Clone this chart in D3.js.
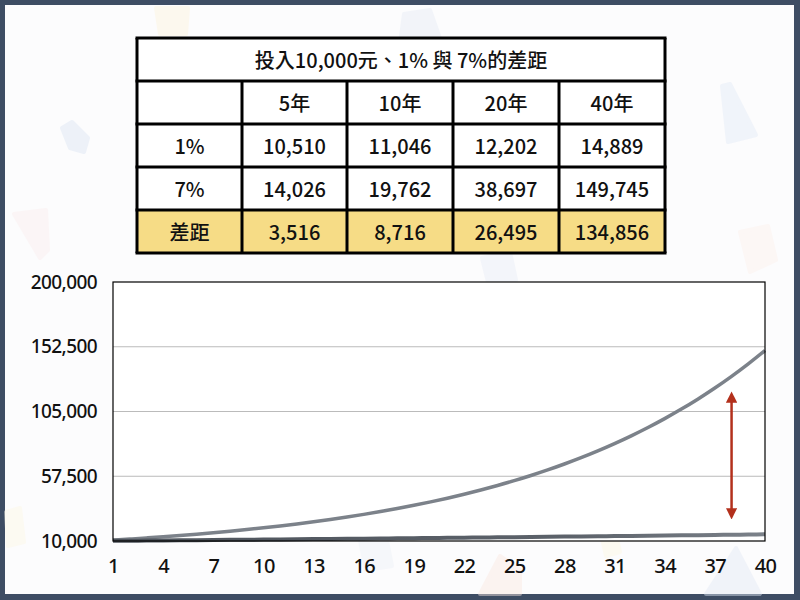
<!DOCTYPE html>
<html>
<head>
<meta charset="utf-8">
<script src="https://cdn.jsdelivr.net/npm/d3@7"></script>
<style>
  html, body { margin: 0; padding: 0; background: #3e4d64; }
  svg { display: block; }
  .cjk { font-family: "Noto Sans CJK TC", "Noto Sans", sans-serif; font-weight: 500; }
  .num { font-family: "Noto Sans", "Open Sans", sans-serif; font-weight: 500; letter-spacing: -0.6px; }
</style>
</head>
<body>
<div id="chart"></div>
<script>
// 표 데이터
const tableTitle = '投入10,000元、1% 與 7%的差距';
const tableHeader = ['', '5年', '10年', '20年', '40年'];
const rowLabels = ['1%', '7%', '差距'];
const row1 = ['10,510', '11,046', '12,202', '14,889'];
const row7 = ['14,026', '19,762', '38,697', '149,745'];
const rowGap = ['3,516', '8,716', '26,495', '134,856'];

// 그래프 데이터 (연도별 금액)
const years = d3.range(1, 41);
const rate1 = [10100, 10201, 10303, 10406, 10510, 10615, 10721, 10829, 10937, 11046,
  11157, 11268, 11381, 11495, 11610, 11726, 11843, 11961, 12081, 12202,
  12324, 12447, 12572, 12697, 12824, 12953, 13082, 13213, 13345, 13478,
  13613, 13749, 13887, 14026, 14166, 14308, 14451, 14595, 14741, 14889];
const rate7 = [10700, 11449, 12250, 13108, 14026, 15007, 16058, 17182, 18385, 19672,
  21049, 22522, 24098, 25785, 27590, 29522, 31588, 33799, 36165, 38697,
  41406, 44304, 47405, 50724, 54274, 58074, 62139, 66488, 71143, 76123,
  81451, 87153, 93253, 99781, 106766, 114239, 122236, 130793, 139948, 149745];
const yTicks = [10000, 57500, 105000, 152500, 200000];
const xTicks = d3.range(1, 41, 3);
const arrowYear = 38;
const arrowRange = [120000, 25500];

const width = 800, height = 600;
const svg = d3.select('#chart').append('svg')
  .attr('width', width).attr('height', height);

// 배경
svg.append('rect').attr('width', width).attr('height', height).attr('fill', '#3e4d64');
svg.append('rect').attr('x', 5).attr('y', 5).attr('width', 789).attr('height', 589)
  .attr('fill', '#fcfcfd');

// 희미한 장식 조각
const confetti = [
  { pts: [[62, 128], [72, 122], [88, 138], [84, 152], [70, 148]], c: '#dbe5f4' },
  { pts: [[14, 214], [46, 210], [48, 250], [40, 258]], c: '#fbeeee' },
  { pts: [[722, 86], [730, 84], [756, 135], [728, 142]], c: '#e3ebf7' },
  { pts: [[740, 232], [768, 226], [776, 260], [750, 272]], c: '#fcf1ec' },
  { pts: [[6, 512], [20, 508], [24, 542], [8, 546]], c: '#fdf8e6' },
  { pts: [[156, 8], [188, 8], [186, 34], [160, 34]], c: '#fcf5dd' },
  { pts: [[404, 14], [430, 10], [444, 50], [400, 44]], c: '#e6ecf6' },
  { pts: [[482, 258], [510, 252], [516, 280], [488, 282]], c: '#e9eef7' },
  { pts: [[480, 594], [500, 556], [520, 570], [520, 594]], c: '#fbe9e2' },
  { pts: [[706, 594], [736, 548], [760, 594]], c: '#e3eaf6' },
  { pts: [[598, 520], [612, 516], [620, 552], [606, 556]], c: '#fdf8e4' },
  { pts: [[360, 540], [386, 536], [392, 566], [366, 570]], c: '#eef1f8' }
];
svg.append('g').attr('opacity', 0.45)
  .selectAll('polygon').data(confetti).join('polygon')
  .attr('points', d => d.pts.map(p => p.join(',')).join(' '))
  .attr('fill', d => d.c)
  .attr('stroke', d => d.c).attr('stroke-width', 4).attr('stroke-linejoin', 'round');

// ---- 표 그리기 ----
const colEdges = [137, 242, 347, 453, 559, 665];
const rowY = d3.scaleLinear().domain([0, 5]).range([38, 253]);
const tableG = svg.append('g');

const tableRows = [
  tableHeader,
  [rowLabels[0], ...row1],
  [rowLabels[1], ...row7],
  [rowLabels[2], ...rowGap]
];

tableG.append('rect')
  .attr('x', colEdges[0]).attr('y', rowY(0))
  .attr('width', colEdges[5] - colEdges[0]).attr('height', rowY(5) - rowY(0))
  .attr('fill', '#ffffff');
tableG.append('rect')
  .attr('x', colEdges[0]).attr('y', rowY(4))
  .attr('width', colEdges[5] - colEdges[0]).attr('height', rowY(5) - rowY(4))
  .attr('fill', '#f6dc86');

// 셀 경계선
tableG.selectAll('line.h').data(d3.range(0, 6)).join('line')
  .attr('class', 'h')
  .attr('x1', colEdges[0] - 1.5).attr('x2', colEdges[5] + 1.5)
  .attr('y1', d => rowY(d)).attr('y2', d => rowY(d))
  .attr('stroke', '#000').attr('stroke-width', 3);
tableG.selectAll('line.v').data(colEdges).join('line')
  .attr('class', 'v')
  .attr('x1', d => d).attr('x2', d => d)
  .attr('y1', (d, i) => (i === 0 || i === 5) ? rowY(0) : rowY(1))
  .attr('y2', rowY(5))
  .attr('stroke', '#000').attr('stroke-width', 3);

tableG.append('text')
  .attr('class', 'cjk')
  .attr('x', (colEdges[0] + colEdges[5]) / 2).attr('y', (rowY(0) + rowY(1)) / 2)
  .attr('text-anchor', 'middle').attr('dominant-baseline', 'central')
  .attr('font-size', 20).attr('fill', '#111')
  .text(tableTitle);

tableRows.forEach((row, r) => {
  tableG.selectAll(null).data(row).join('text')
    .attr('class', 'cjk')
    .attr('x', (d, i) => (colEdges[i] + colEdges[i + 1]) / 2)
    .attr('y', (rowY(r + 1) + rowY(r + 2)) / 2)
    .attr('text-anchor', 'middle').attr('dominant-baseline', 'central')
    .attr('font-size', 20).attr('fill', '#111')
    .text(d => d);
});

// ---- 선 그래프 ----
const x = d3.scaleLinear().domain([1, 40]).range([113, 765]);
const y = d3.scaleLinear().domain([10000, 200000]).range([541, 282]);

const chartG = svg.append('g');
chartG.append('rect')
  .attr('x', x(1)).attr('y', y(200000))
  .attr('width', x(40) - x(1)).attr('height', y(10000) - y(200000))
  .attr('fill', '#ffffff');

chartG.selectAll('line.grid').data(yTicks.slice(1, -1)).join('line')
  .attr('class', 'grid')
  .attr('x1', x(1)).attr('x2', x(40))
  .attr('y1', d => y(d)).attr('y2', d => y(d))
  .attr('stroke', '#bbbbbb').attr('stroke-width', 1);

const grad = svg.append('defs').append('linearGradient')
  .attr('id', 'lowGrad').attr('gradientUnits', 'userSpaceOnUse')
  .attr('x1', x(1)).attr('x2', x(40)).attr('y1', 0).attr('y2', 0);
grad.append('stop').attr('offset', '0%').attr('stop-color', '#4d535b');
grad.append('stop').attr('offset', '70%').attr('stop-color', '#5c626a');
grad.append('stop').attr('offset', '100%').attr('stop-color', '#7b8189');

const line = d3.line().x((d, i) => x(years[i])).y(d => y(d)).curve(d3.curveMonotoneX);

chartG.append('path')
  .datum(rate7)
  .attr('d', line)
  .attr('fill', 'none').attr('stroke', '#7c828a').attr('stroke-width', 3.5);

chartG.append('path')
  .datum(rate1)
  .attr('d', line)
  .attr('fill', 'none').attr('stroke', 'url(#lowGrad)').attr('stroke-width', 4);

chartG.append('rect')
  .attr('x', x(1)).attr('y', y(200000))
  .attr('width', x(40) - x(1)).attr('height', y(10000) - y(200000))
  .attr('fill', 'none').attr('stroke', '#000').attr('stroke-width', 1.2);

// 축
const yAxis = d3.axisLeft(y).tickValues(yTicks).tickSize(0).tickPadding(16)
  .tickFormat(d3.format(','));
const xAxis = d3.axisBottom(x).tickValues(xTicks).tickSize(0).tickPadding(18);

svg.append('g').attr('transform', `translate(${x(1)},0)`).call(yAxis)
  .call(g => g.select('.domain').remove())
  .selectAll('text').attr('class', 'num').attr('font-size', 19).attr('fill', '#111');
svg.append('g').attr('transform', `translate(0,${y(10000)})`).call(xAxis)
  .call(g => g.select('.domain').remove())
  .selectAll('text').attr('class', 'num').attr('font-size', 20).attr('fill', '#111');

// 차이 화살표
const marker = svg.select('defs').append('marker')
  .attr('id', 'arrowHead').attr('viewBox', '0 0 10 10')
  .attr('refX', 5).attr('refY', 5)
  .attr('markerWidth', 4.5).attr('markerHeight', 4.5)
  .attr('orient', 'auto-start-reverse');
marker.append('path').attr('d', 'M0,0 L10,5 L0,10 Z').attr('fill', '#b3301c');

chartG.append('line')
  .attr('x1', x(arrowYear)).attr('x2', x(arrowYear))
  .attr('y1', y(arrowRange[0]) + 6).attr('y2', y(arrowRange[1]) - 6)
  .attr('stroke', '#b3301c').attr('stroke-width', 2.5)
  .attr('marker-start', 'url(#arrowHead)').attr('marker-end', 'url(#arrowHead)');
</script>
</body>
</html>
